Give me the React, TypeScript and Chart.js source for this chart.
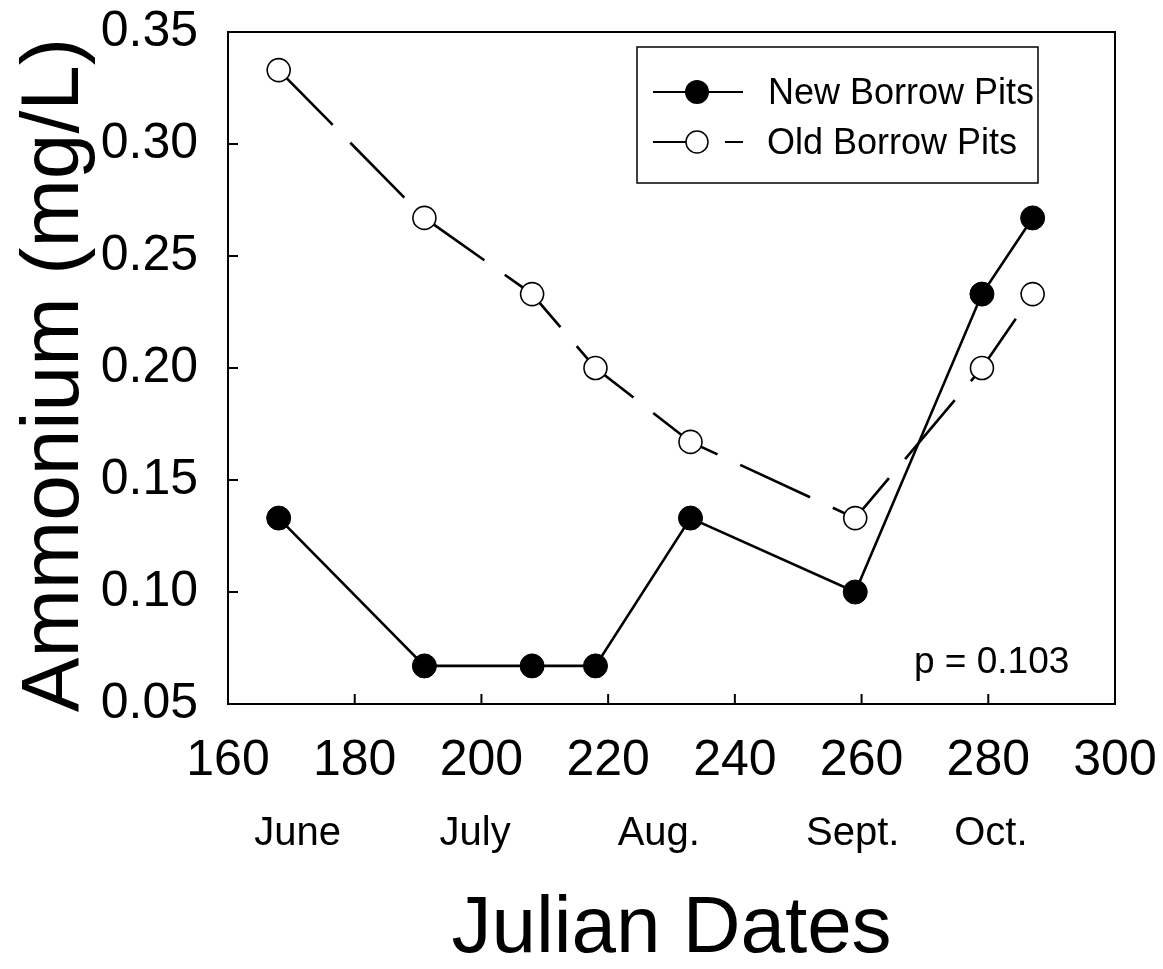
import React, { useEffect, useRef } from "react";
import { Chart, registerables } from "chart.js";

Chart.register(...registerables);

const julianDays = [168, 191, 208, 218, 233, 259, 279, 287];
const newBorrowPits = [0.133, 0.067, 0.067, 0.067, 0.133, 0.1, 0.233, 0.267];
const oldBorrowPits = [0.333, 0.267, 0.233, 0.2, 0.167, 0.133, 0.2, 0.233];
const monthNames = ["June", "July", "Aug.", "Sept.", "Oct."];
const monthCenters = [171, 199, 228, 258.6, 280.4];
const seriesNames = ["New Borrow Pits", "Old Borrow Pits"];
const pValueText = "p = 0.103";
const xTitle = "Julian Dates";
const yTitle = "Ammonium (mg/L)";

const FONT = "'Liberation Sans', Arial, Helvetica, sans-serif";

const decorPlugin = {
  id: "decor",
  afterDraw(chart: any) {
    const { ctx, chartArea, scales } = chart;
    const xs = scales.x;
    const ys = scales.y;
    ctx.save();
    ctx.strokeStyle = "#000";
    ctx.lineWidth = 2;
    // frame
    ctx.strokeRect(chartArea.left, chartArea.top, chartArea.right - chartArea.left, chartArea.bottom - chartArea.top);
    // inward ticks
    xs.ticks.forEach((t: any) => {
      if (t.value <= xs.min || t.value >= xs.max) return;
      const px = xs.getPixelForValue(t.value);
      ctx.beginPath();
      ctx.moveTo(px, chartArea.bottom);
      ctx.lineTo(px, chartArea.bottom - 10);
      ctx.stroke();
    });
    ys.ticks.forEach((t: any) => {
      if (t.value <= ys.min + 1e-9 || t.value >= ys.max - 1e-9) return;
      const py = ys.getPixelForValue(t.value);
      ctx.beginPath();
      ctx.moveTo(chartArea.left, py);
      ctx.lineTo(chartArea.left + 10, py);
      ctx.stroke();
    });

    ctx.fillStyle = "#000";
    // month labels
    ctx.font = `40px ${FONT}`;
    ctx.textAlign = "center";
    ctx.textBaseline = "alphabetic";
    monthNames.forEach((m, i) => {
      ctx.fillText(m, xs.getPixelForValue(monthCenters[i]), 845);
    });
    // x title
    ctx.font = `80px ${FONT}`;
    ctx.fillText(xTitle, (chartArea.left + chartArea.right) / 2, 952);
    // y title
    ctx.save();
    ctx.translate(78, (chartArea.top + chartArea.bottom) / 2 + 7);
    ctx.rotate(-Math.PI / 2);
    ctx.font = `82px ${FONT}`;
    ctx.textAlign = "center";
    ctx.fillText(yTitle, 0, 0);
    ctx.restore();

    // p-value
    ctx.font = `37px ${FONT}`;
    ctx.textAlign = "left";
    ctx.fillText(pValueText, 914, 673);

    // legend
    const lx = 637, ly = 47, lw = 401, lh = 136;
    ctx.fillStyle = "#fff";
    ctx.fillRect(lx, ly, lw, lh);
    ctx.lineWidth = 1.5;
    ctx.strokeRect(lx, ly, lw, lh);
    ctx.lineWidth = 2;
    const rows = [92, 142];
    // row 1
    ctx.beginPath();
    ctx.moveTo(653, rows[0]);
    ctx.lineTo(743, rows[0]);
    ctx.stroke();
    ctx.beginPath();
    ctx.arc(697, rows[0], 12, 0, Math.PI * 2);
    ctx.fillStyle = "#000";
    ctx.fill();
    // row 2
    ctx.beginPath();
    ctx.moveTo(653, rows[1]);
    ctx.lineTo(688, rows[1]);
    ctx.moveTo(725, rows[1]);
    ctx.lineTo(743, rows[1]);
    ctx.stroke();
    ctx.beginPath();
    ctx.arc(697, rows[1], 11, 0, Math.PI * 2);
    ctx.fillStyle = "#fff";
    ctx.fill();
    ctx.lineWidth = 1.5;
    ctx.stroke();
    ctx.fillStyle = "#000";
    ctx.font = `36px ${FONT}`;
    ctx.textAlign = "left";
    ctx.textBaseline = "middle";
    ctx.fillText(seriesNames[0], 768, rows[0] + 2);
    ctx.fillText(seriesNames[1], 767, rows[1] + 2);
    ctx.restore();
  },
};

export default function App() {
  const ref = useRef<HTMLCanvasElement>(null);
  useEffect(() => {
    document.body.style.margin = "0";
    const chart = new Chart(ref.current!, {
      type: "line",
      data: {
        datasets: [
          {
            label: seriesNames[0],
            data: julianDays.map((d, i) => ({ x: d, y: newBorrowPits[i] })),
            borderColor: "#000",
            borderWidth: 2.6,
            pointRadius: 12,
            pointBackgroundColor: "#000",
            pointBorderColor: "#000",
            pointBorderWidth: 1,
            tension: 0,
          },
          {
            label: seriesNames[1],
            data: julianDays.map((d, i) => ({ x: d, y: oldBorrowPits[i] })),
            borderColor: "#000",
            borderWidth: 2.6,
            borderDash: [77, 25],
            pointRadius: 11.5,
            pointBackgroundColor: "#fff",
            pointBorderColor: "#000",
            pointBorderWidth: 1.6,
            tension: 0,
          },
        ],
      },
      options: {
        animation: false,
        responsive: false,
        layout: { padding: { left: 0, right: 48, top: 32, bottom: 0 } },
        plugins: { legend: { display: false }, tooltip: { enabled: false } },
        scales: {
          x: {
            type: "linear",
            min: 160,
            max: 300,
            grid: { display: false, drawTicks: false },
            border: { display: true, color: "#000", width: 2 },
            ticks: {
              stepSize: 20,
              padding: 27,
              color: "#000",
              font: { family: FONT, size: 50 },
              maxRotation: 0,
            },
            afterFit: (s: any) => {
              s.height = 969 - 704;
              s.paddingLeft = 0;
              s.paddingRight = 0;
            },
          },
          y: {
            min: 0.05,
            max: 0.35,
            grid: { display: false, drawTicks: false },
            border: { display: true, color: "#000", width: 2 },
            ticks: {
              stepSize: 0.05,
              padding: 30,
              color: "#000",
              font: { family: FONT, size: 50 },
              callback: (v: any) => Number(v).toFixed(2),
            },
            afterFit: (s: any) => {
              s.width = 228;
              s.paddingTop = 0;
              s.paddingBottom = 0;
            },
          },
        },
      },
      plugins: [decorPlugin],
    });
    return () => chart.destroy();
  }, []);
  return (
    <div style={{ width: 1163, height: 969 }}>
      <canvas ref={ref} width={1163} height={969} style={{ display: "block" }} />
    </div>
  );
}
